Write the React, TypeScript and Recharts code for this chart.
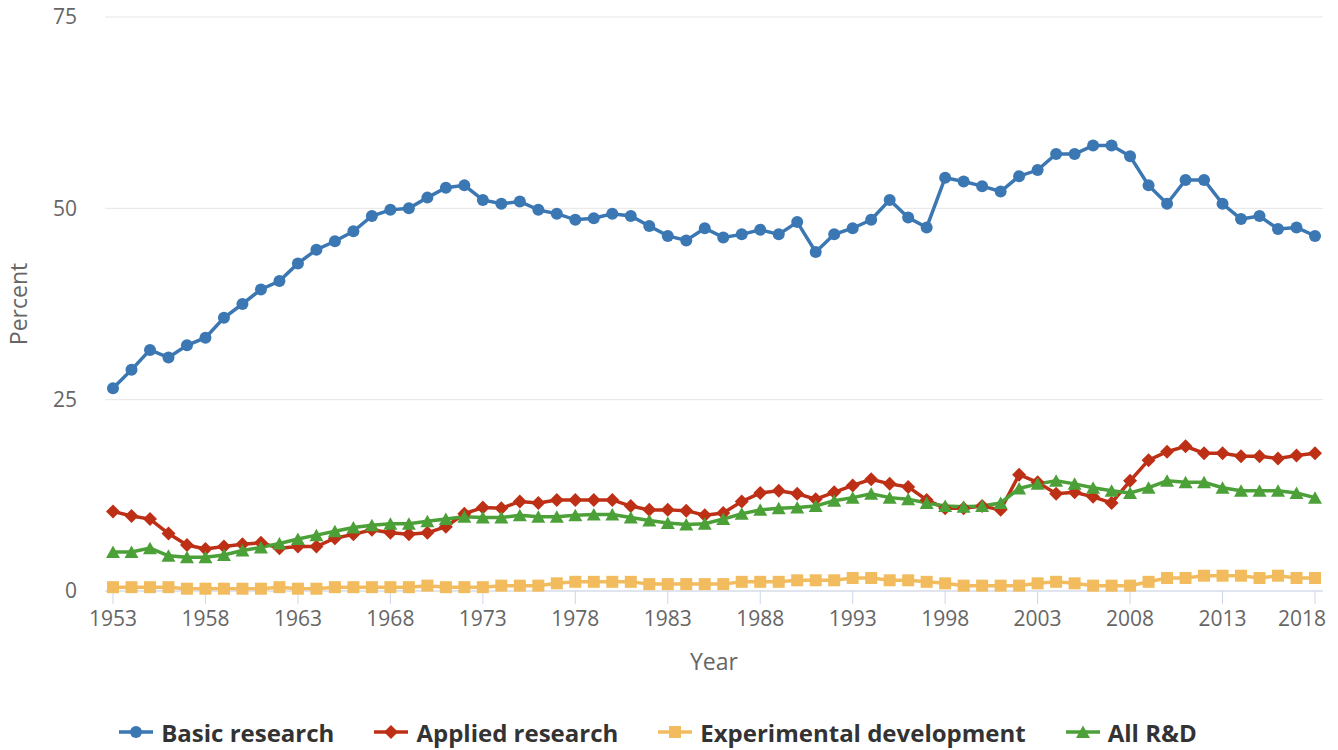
import React from "react";
import { LineChart, Line, XAxis, YAxis, CartesianGrid, Legend } from "recharts";

const years = [
  1953, 1954, 1955, 1956, 1957, 1958, 1959, 1960, 1961, 1962,
  1963, 1964, 1965, 1966, 1967, 1968, 1969, 1970, 1971, 1972,
  1973, 1974, 1975, 1976, 1977, 1978, 1979, 1980, 1981, 1982,
  1983, 1984, 1985, 1986, 1987, 1988, 1989, 1990, 1991, 1992,
  1993, 1994, 1995, 1996, 1997, 1998, 1999, 2000, 2001, 2002,
  2003, 2004, 2005, 2006, 2007, 2008, 2009, 2010, 2011, 2012,
  2013, 2014, 2015, 2016, 2017, 2018,
];

const basic = [
  26.5, 28.9, 31.5, 30.5, 32.1, 33.1, 35.7, 37.5, 39.4, 40.5,
  42.8, 44.6, 45.7, 47.0, 49.0, 49.8, 50.0, 51.4, 52.7, 53.0,
  51.1, 50.6, 50.9, 49.8, 49.3, 48.5, 48.7, 49.3, 49.0, 47.7,
  46.4, 45.8, 47.4, 46.2, 46.6, 47.2, 46.6, 48.2, 44.3, 46.6,
  47.4, 48.5, 51.1, 48.8, 47.5, 54.0, 53.5, 52.9, 52.2, 54.2,
  55.0, 57.1, 57.1, 58.2, 58.2, 56.8, 53.0, 50.6, 53.7, 53.7,
  50.6, 48.6, 49.0, 47.3, 47.5, 46.4,
];

const applied = [
  10.4, 9.8, 9.4, 7.5, 6.0, 5.5, 5.8, 6.1, 6.3, 5.6,
  5.8, 5.8, 6.9, 7.4, 8.0, 7.6, 7.4, 7.6, 8.4, 10.1,
  10.9, 10.8, 11.7, 11.5, 11.9, 11.9, 11.9, 11.9, 11.1, 10.6,
  10.6, 10.5, 9.9, 10.2, 11.7, 12.8, 13.1, 12.7, 12.0, 12.9,
  13.8, 14.6, 14.0, 13.6, 11.9, 10.8, 10.8, 11.1, 10.6, 15.2,
  14.2, 12.7, 12.9, 12.3, 11.5, 14.4, 17.1, 18.2, 18.9, 18.0,
  18.0, 17.6, 17.6, 17.3, 17.7, 18.0,
];

const experimental = [
  0.5, 0.5, 0.5, 0.5, 0.3, 0.3, 0.3, 0.3, 0.3, 0.5,
  0.3, 0.3, 0.5, 0.5, 0.5, 0.5, 0.5, 0.7, 0.5, 0.5,
  0.5, 0.7, 0.7, 0.7, 1.0, 1.2, 1.2, 1.2, 1.2, 0.9,
  0.9, 0.9, 0.9, 0.9, 1.2, 1.2, 1.2, 1.4, 1.4, 1.4,
  1.7, 1.7, 1.4, 1.4, 1.2, 1.0, 0.7, 0.7, 0.7, 0.7,
  1.0, 1.2, 1.0, 0.7, 0.7, 0.7, 1.2, 1.7, 1.7, 2.0,
  2.0, 2.0, 1.7, 2.0, 1.7, 1.7,
];

const allRD = [
  5.1, 5.1, 5.6, 4.6, 4.4, 4.4, 4.7, 5.3, 5.7, 6.2,
  6.8, 7.3, 7.8, 8.3, 8.6, 8.8, 8.8, 9.1, 9.4, 9.7,
  9.6, 9.6, 9.9, 9.7, 9.7, 9.9, 10.0, 10.0, 9.6, 9.2,
  8.9, 8.7, 8.8, 9.4, 10.1, 10.6, 10.8, 10.9, 11.1, 11.8,
  12.2, 12.7, 12.2, 12.0, 11.5, 11.1, 11.0, 11.1, 11.5, 13.4,
  14.0, 14.4, 14.0, 13.5, 13.1, 12.8, 13.5, 14.4, 14.2, 14.2,
  13.5, 13.1, 13.1, 13.1, 12.8, 12.2,
];

const xTicks = [1953, 1958, 1963, 1968, 1973, 1978, 1983, 1988, 1993, 1998, 2003, 2008, 2013, 2018];
const yTicks = [0, 25, 50, 75];

const data = years.map((year, i) => ({
  year,
  basic: basic[i],
  applied: applied[i],
  experimental: experimental[i],
  allRD: allRD[i],
}));

const FONT = "'Open Sans', sans-serif";

const series = [
  { key: "basic", name: "Basic research", color: "#3b77b2", shape: "circle" },
  { key: "applied", name: "Applied research", color: "#be3016", shape: "diamond" },
  { key: "experimental", name: "Experimental development", color: "#f2bc5e", shape: "square" },
  { key: "allRD", name: "All R&D", color: "#4ca038", shape: "triangle" },
];

function Marker({ cx, cy, shape, color }: { cx: number; cy: number; shape: string; color: string }) {
  if (cx == null || cy == null) return null;
  if (shape === "circle") return <circle cx={cx} cy={cy} r={6} fill={color} />;
  if (shape === "diamond")
    return (
      <path d={`M${cx},${cy - 7} L${cx + 7},${cy} L${cx},${cy + 7} L${cx - 7},${cy} Z`} fill={color} />
    );
  if (shape === "square") return <rect x={cx - 6} y={cy - 6} width={12} height={12} fill={color} />;
  return <path d={`M${cx},${cy - 6.5} L${cx + 7},${cy + 6} L${cx - 7},${cy + 6} Z`} fill={color} />;
}

const XTick = (props: any) => {
  const { x, y, payload } = props;
  const last = payload.value === xTicks[xTicks.length - 1];
  return (
    <text
      x={last ? x + 11 : x}
      y={y}
      dy="0.71em"
      textAnchor={last ? "end" : "middle"}
      fill="#666666"
      fontSize={21}
      fontFamily={FONT}
    >
      {payload.value}
    </text>
  );
};

const LegendContent = () => (
  <div
    style={{
      display: "flex",
      justifyContent: "center",
      alignItems: "center",
      height: 36,
      gap: 40,
      fontFamily: FONT,
      fontWeight: 700,
      fontSize: 24,
      color: "#333333",
      paddingRight: 22,
    }}
  >
    {series.map((s) => (
      <div key={s.key} style={{ display: "flex", alignItems: "center", gap: 8 }}>
        <svg width={34} height={16}>
          <line x1={0} y1={8} x2={34} y2={8} stroke={s.color} strokeWidth={3.5} />
          <Marker cx={17} cy={8} shape={s.shape} color={s.color} />
        </svg>
        <span>{s.name}</span>
      </div>
    ))}
  </div>
);

export default function App() {
  return (
    <div style={{ position: "absolute", left: 0, top: 0, width: 1338, height: 750, background: "#fff" }}>
      <LineChart width={1338} height={750} data={data} margin={{ top: 17, right: 15, left: 0, bottom: 33 }}>
        <CartesianGrid vertical={false} stroke="#e6e6e6" />
        <XAxis
          dataKey="year"
          type="number"
          domain={[1953, 2018]}
          ticks={xTicks}
          interval={0}
          padding={{ left: 8, right: 8 }}
          height={90}
          stroke="#ccd6eb"
          tickSize={13}
          tickMargin={7}
          tick={<XTick />}
          label={{
            content: (p: any) => {
              const vb = p.viewBox;
              return (
                <text
                  x={vb.x + vb.width / 2}
                  y={vb.y + 79}
                  textAnchor="middle"
                  fill="#666666"
                  fontSize={23}
                  fontFamily={FONT}
                >
                  Year
                </text>
              );
            },
          }}
        />
        <YAxis
          domain={[0, 75]}
          ticks={yTicks}
          width={105}
          axisLine={false}
          tickLine={false}
          tickSize={0}
          tickMargin={28}
          tick={{ fill: "#666666", fontSize: 21, fontFamily: FONT }}
          label={{
            content: (p: any) => {
              const vb = p.viewBox;
              const x = 27;
              const y = vb.y + vb.height / 2;
              return (
                <text
                  x={x}
                  y={y}
                  transform={`rotate(-90, ${x}, ${y})`}
                  textAnchor="middle"
                  fill="#666666"
                  fontSize={23}
                  fontFamily={FONT}
                >
                  Percent
                </text>
              );
            },
          }}
        />
        <Legend verticalAlign="bottom" content={<LegendContent />} wrapperStyle={{ bottom: 0, left: 0, width: 1338 }} />
        {series.map((s) => (
          <Line
            key={s.key}
            dataKey={s.key}
            name={s.name}
            stroke={s.color}
            strokeWidth={3.5}
            isAnimationActive={false}
            dot={(p: any) => <Marker key={`${s.key}-${p.index}`} cx={p.cx} cy={p.cy} shape={s.shape} color={s.color} />}
            activeDot={false}
          />
        ))}
      </LineChart>
    </div>
  );
}
